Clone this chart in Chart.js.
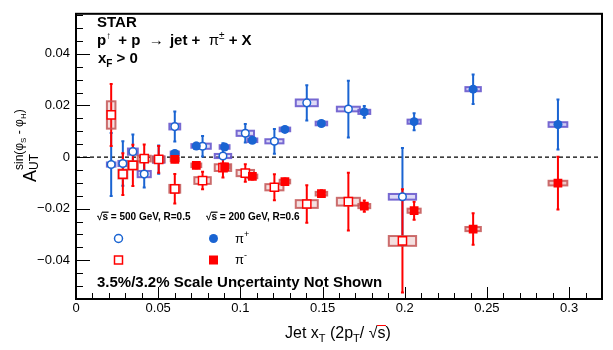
<!DOCTYPE html>
<html>
<head>
<meta charset="utf-8">
<script src="https://cdn.jsdelivr.net/npm/chart.js@4.4.1/dist/chart.umd.min.js"></script>
<style>
  html, body { margin: 0; padding: 0; background: #fff; }
  #chart { display: block; }
</style>
</head>
<body>
<canvas id="chart" width="613" height="350"></canvas>
<script>
// sqrt(s) = 500 GeV, R=0.5 (open markers)
const xT500 = [0.0214, 0.0285, 0.0346, 0.0415, 0.0503, 0.0601, 0.0770, 0.0894, 0.1030, 0.1207, 0.1404, 0.1657, 0.1986]
const piPlus500 = [-0.0029, -0.0025, 0.0021, -0.0066, -0.0010, 0.0118, 0.0042, 0.0004, 0.0092, 0.0061, 0.0210, 0.0186, -0.0154]
const piPlus500Stat = [0.0122, 0.0086, 0.0066, 0.0052, 0.0055, 0.0058, 0.0040, 0.0049, 0.0036, 0.0048, 0.0068, 0.0110, 0.0189]
const piPlus500SysY = [0.0008, 0.0010, 0.0012, 0.0012, 0.0012, 0.0011, 0.0010, 0.0008, 0.0010, 0.0008, 0.0013, 0.0009, 0.0011]
const piMinus500 = [0.0163, -0.0066, -0.0032, -0.0006, -0.0009, -0.0123, -0.0091, -0.0041, -0.0062, -0.0117, -0.0182, -0.0173, -0.0325]
const piMinus500Stat = [0.0120, 0.0081, 0.0080, 0.0055, 0.0052, 0.0057, 0.0034, 0.0038, 0.0034, 0.0050, 0.0073, 0.0112, 0.0200]
const piMinus500SysY = [0.0053, 0.0017, 0.0016, 0.0011, 0.0011, 0.0015, 0.0013, 0.0013, 0.0012, 0.0012, 0.0015, 0.0015, 0.0019]
const sysX500 = [0.0026, 0.0027, 0.0030, 0.0040, 0.0035, 0.0033, 0.0050, 0.0050, 0.0053, 0.0055, 0.0067, 0.0070, 0.0083]

// sqrt(s) = 200 GeV, R=0.6 (filled markers)
const xT200 = [0.0601, 0.0732, 0.0904, 0.1073, 0.1271, 0.1493, 0.1754, 0.2057, 0.2416, 0.2932]
const piPlus200 = [0.0014, 0.0043, 0.0039, 0.0065, 0.0107, 0.0130, 0.0175, 0.0137, 0.0263, 0.0126]
const piPlus200Stat = [0.0010, 0.0012, 0.0012, 0.0011, 0.0010, 0.0009, 0.0023, 0.0033, 0.0057, 0.0097]
const piMinus200 = [-0.0009, -0.0032, -0.0038, -0.0075, -0.0095, -0.0142, -0.0190, -0.0208, -0.0279, -0.0101]
const piMinus200Stat = [0.0011, 0.0011, 0.0012, 0.0012, 0.0012, 0.0013, 0.0022, 0.0035, 0.0061, 0.0102]
const sysX200 = [0.0025, 0.0030, 0.0030, 0.0030, 0.0032, 0.0035, 0.0036, 0.0040, 0.0047, 0.0057]
const sysY200 = [0.0007, 0.0007, 0.0007, 0.0007, 0.0007, 0.0007, 0.0008, 0.0008, 0.0008, 0.0009]

const xTicks = [0, 0.05, 0.1, 0.15, 0.2, 0.25, 0.3]
const xTickLabels = ['0', '0.05', '0.1', '0.15', '0.2', '0.25', '0.3']
const yTicks = [-0.04, -0.02, 0, 0.02, 0.04]
const yTickLabels = ['\u22120.04', '\u22120.02', '0', '0.02', '0.04']

const BLUE = '#1a64d2'
const RED = '#ff0000'
const FONT = '"Liberation Sans", Arial, Helvetica, sans-serif'

const toPoints = (xs, ys) => xs.map((x, i) => ({ x, y: ys[i] }))

const series = [
  { xs: xT500, ys: piPlus500, stat: piPlus500Stat, sx: sysX500, sy: piPlus500SysY, bar: BLUE,
    boxStroke: 'rgba(105,90,205,0.9)', boxFill: 'rgba(120,105,220,0.25)' },
  { xs: xT500, ys: piMinus500, stat: piMinus500Stat, sx: sysX500, sy: piMinus500SysY, bar: RED,
    boxStroke: 'rgba(195,85,85,0.85)', boxFill: 'rgba(200,100,100,0.2)' },
  { xs: xT200, ys: piPlus200, stat: piPlus200Stat, sx: sysX200, sy: sysY200, bar: BLUE,
    boxStroke: 'rgba(105,90,205,0.9)', boxFill: 'rgba(120,105,220,0.35)' },
  { xs: xT200, ys: piMinus200, stat: piMinus200Stat, sx: sysX200, sy: sysY200, bar: RED,
    boxStroke: 'rgba(195,85,85,0.85)', boxFill: 'rgba(200,100,100,0.35)' },
]

// draws a run of text pieces with their own font and baseline shift
function drawRich(ctx, parts, x, y) {
  let cx = x
  parts.forEach(p => {
    ctx.font = p.f
    ctx.fillText(p.t, cx, y + (p.dy || 0))
    cx += ctx.measureText(p.t).width + (p.gap || 0)
  })
  return cx
}

function sqrtS(ctx, x, y, size, bold) {
  const w = bold ? 'bold ' : ''
  ctx.font = w + size + 'px ' + FONT
  ctx.fillText('\u221a', x, y)
  const rw = ctx.measureText('\u221a').width
  const sw = ctx.measureText('s').width
  ctx.fillText('s', x + rw, y)
  ctx.save()
  ctx.lineWidth = bold ? 1.2 : 1
  ctx.beginPath()
  ctx.moveTo(x + rw - 0.5, y - size * 0.78)
  ctx.lineTo(x + rw + sw + 0.5, y - size * 0.78)
  ctx.stroke()
  ctx.restore()
  return x + rw + sw
}

const errorBars = {
  id: 'errorBars',
  beforeDatasetsDraw(chart) {
    const { ctx, chartArea: area, scales: { x, y } } = chart
    ctx.save()
    // zero line
    ctx.strokeStyle = '#000'
    ctx.lineWidth = 1.2
    ctx.setLineDash([4, 3])
    ctx.beginPath()
    ctx.moveTo(area.left, y.getPixelForValue(0))
    ctx.lineTo(area.right, y.getPixelForValue(0))
    ctx.stroke()
    ctx.setLineDash([])

    series.forEach(s => {
      ctx.strokeStyle = s.bar
      ctx.lineWidth = 2
      s.xs.forEach((xv, i) => {
        const px = x.getPixelForValue(xv)
        const top = y.getPixelForValue(s.ys[i] + s.stat[i])
        const bot = y.getPixelForValue(s.ys[i] - s.stat[i])
        ctx.beginPath()
        ctx.moveTo(px, top)
        ctx.lineTo(px, bot)
        ctx.moveTo(px - 1.5, top)
        ctx.lineTo(px + 1.5, top)
        ctx.moveTo(px - 1.5, bot)
        ctx.lineTo(px + 1.5, bot)
        ctx.stroke()
      })
    })
    series.forEach(s => {
      ctx.lineWidth = 2
      ctx.strokeStyle = s.boxStroke
      ctx.fillStyle = s.boxFill
      s.xs.forEach((xv, i) => {
        const l = x.getPixelForValue(xv - s.sx[i])
        const r = x.getPixelForValue(xv + s.sx[i])
        const t = y.getPixelForValue(s.ys[i] + s.sy[i])
        const b = y.getPixelForValue(s.ys[i] - s.sy[i])
        ctx.fillRect(l, t, r - l, b - t)
        ctx.strokeRect(l, t, r - l, b - t)
      })
    })
    ctx.restore()
  },
  afterDraw(chart) {
    const { ctx, chartArea: area, scales: { x, y } } = chart
    ctx.save()
    ctx.strokeStyle = '#000'
    ctx.fillStyle = '#000'

    // ticks, ROOT style (inside)
    ctx.lineWidth = 1
    ctx.beginPath()
    for (let k = 0; k <= 32; k++) {
      const v = k / 100
      const px = Math.round(x.getPixelForValue(v)) + 0.5
      const len = k % 5 === 0 ? 12 : 6
      ctx.moveTo(px, area.bottom)
      ctx.lineTo(px, area.bottom - len)
    }
    for (let k = -11; k <= 11; k++) {
      const v = k * 0.005
      const py = Math.round(y.getPixelForValue(v)) + 0.5
      const len = k % 4 === 0 ? 14 : 7
      ctx.moveTo(area.left, py)
      ctx.lineTo(area.left + len, py)
    }
    ctx.stroke()

    // frame
    ctx.lineWidth = 2
    ctx.strokeRect(area.left, area.top, area.right - area.left, area.bottom - area.top)

    // header
    ctx.textAlign = 'left'
    ctx.textBaseline = 'alphabetic'
    const B15 = 'bold 15px ' + FONT
    const R15 = '15px ' + FONT
    ctx.font = B15
    ctx.fillText('STAR', 97, 27)
    drawRich(ctx, [
      { t: 'p', f: B15 },
      { t: '\u2191', f: '10px ' + FONT, dy: -6, gap: 3 },
      { t: ' + p  ', f: B15 },
      { t: '\u2192', f: R15, gap: 2 },
      { t: ' jet +  ', f: B15 },
      { t: '\u03c0', f: R15 },
      { t: '\u00b1', f: '10px ' + FONT, dy: -6 },
      { t: ' + X', f: B15 },
    ], 97, 45)
    drawRich(ctx, [
      { t: 'x', f: B15, gap: 0 },
      { t: 'F', f: 'bold 10px ' + FONT, dy: 4 },
      { t: ' > 0', f: B15 },
    ], 98, 63)

    // legend
    let cx = sqrtS(ctx, 97, 220, 10, true)
    ctx.font = 'bold 10px ' + FONT
    ctx.fillText(' = 500 GeV, R=0.5', cx, 220)
    cx = sqrtS(ctx, 206, 220, 10, true)
    ctx.font = 'bold 10px ' + FONT
    ctx.fillText(' = 200 GeV, R=0.6', cx, 220)

    ctx.lineWidth = 1.5
    ctx.strokeStyle = BLUE
    ctx.fillStyle = '#fff'
    ctx.beginPath(); ctx.arc(118.5, 238.5, 4, 0, 2 * Math.PI); ctx.fill(); ctx.stroke()
    ctx.strokeStyle = RED
    ctx.fillRect(114.5, 256, 8, 8); ctx.strokeRect(114.5, 256, 8, 8)
    ctx.fillStyle = BLUE
    ctx.beginPath(); ctx.arc(213.5, 238.5, 4.5, 0, 2 * Math.PI); ctx.fill()
    ctx.fillStyle = RED
    ctx.fillRect(209, 255.5, 9, 9)

    ctx.fillStyle = '#000'
    drawRich(ctx, [
      { t: '\u03c0', f: '13px ' + FONT },
      { t: '+', f: '9px ' + FONT, dy: -6 },
    ], 235, 243)
    drawRich(ctx, [
      { t: '\u03c0', f: '13px ' + FONT },
      { t: '-', f: '9px ' + FONT, dy: -6 },
    ], 235, 264)

    ctx.font = 'bold 15px ' + FONT
    ctx.fillText('3.5%/3.2% Scale Uncertainty Not Shown', 97, 287)

    // x title
    const R16 = '16px ' + FONT
    const R11 = '11px ' + FONT
    cx = drawRich(ctx, [
      { t: 'Jet x', f: R16 },
      { t: 'T', f: R11, dy: 4 },
      { t: ' (2p', f: R16 },
      { t: 'T', f: R11, dy: 4 },
      { t: '/ ', f: R16 },
    ], 285, 338)
    cx = sqrtS(ctx, cx, 338, 16, false)
    ctx.font = R16
    ctx.fillText(')', cx, 338)

    // y title, rotated
    ctx.translate(36, 182)
    ctx.rotate(-Math.PI / 2)
    ctx.font = '18px ' + FONT
    ctx.fillText('A', 0, 0)
    const aw = ctx.measureText('A').width
    ctx.font = '12px ' + FONT
    ctx.fillText('UT', aw, 1.5)
    drawRich(ctx, [
      { t: 'sin(\u03c6', f: '12px ' + FONT },
      { t: 'S', f: '8px ' + FONT, dy: 3 },
      { t: ' - \u03c6', f: '12px ' + FONT },
      { t: 'H', f: '8px ' + FONT, dy: 3 },
      { t: ')', f: '12px ' + FONT },
    ], aw, -13)
    ctx.restore()
  },
}

const data = {
  datasets: [
    {
      label: 'pi- 200',
      data: toPoints(xT200, piMinus200),
      pointStyle: 'rect',
      radius: 6.2,
      backgroundColor: RED,
      borderColor: RED,
      borderWidth: 0,
    },
    {
      label: 'pi+ 200',
      data: toPoints(xT200, piPlus200),
      pointStyle: 'circle',
      radius: 4.5,
      backgroundColor: BLUE,
      borderColor: BLUE,
      borderWidth: 0,
    },
    {
      label: 'pi- 500',
      data: toPoints(xT500, piMinus500),
      pointStyle: 'rect',
      radius: 5.8,
      backgroundColor: '#fff',
      borderColor: RED,
      borderWidth: 1.5,
    },
    {
      label: 'pi+ 500',
      data: toPoints(xT500, piPlus500),
      pointStyle: 'circle',
      radius: 3.8,
      backgroundColor: '#fff',
      borderColor: BLUE,
      borderWidth: 1.5,
    },
  ],
}

const tickFont = { family: FONT, size: 13 }

new Chart(document.getElementById('chart'), {
  type: 'scatter',
  data,
  plugins: [errorBars],
  options: {
    animation: false,
    responsive: false,
    events: [],
    layout: { padding: { left: 0, right: 11, top: 8, bottom: 0 } },
    plugins: {
      legend: { display: false },
      tooltip: { enabled: false },
    },
    elements: { point: { hoverRadius: 0 } },
    scales: {
      x: {
        type: 'linear',
        min: 0,
        max: 0.32,
        afterBuildTicks: s => { s.ticks = xTicks.map(v => ({ value: v })) },
        afterFit: s => { s.height = 51 },
        ticks: {
          callback: (v, i) => xTickLabels[i],
          font: tickFont,
          color: '#000',
          padding: 2,
          maxRotation: 0,
          autoSkip: false,
        },
        grid: { display: false, drawTicks: false },
        border: { display: false },
      },
      y: {
        type: 'linear',
        min: -0.055,
        max: 0.0555,
        afterBuildTicks: s => { s.ticks = yTicks.map(v => ({ value: v })) },
        afterFit: s => { s.width = 76 },
        ticks: {
          callback: (v, i) => yTickLabels[i],
          font: tickFont,
          color: '#000',
          padding: 6,
          autoSkip: false,
        },
        grid: { display: false, drawTicks: false },
        border: { display: false },
      },
    },
  },
})
</script>
</body>
</html>
